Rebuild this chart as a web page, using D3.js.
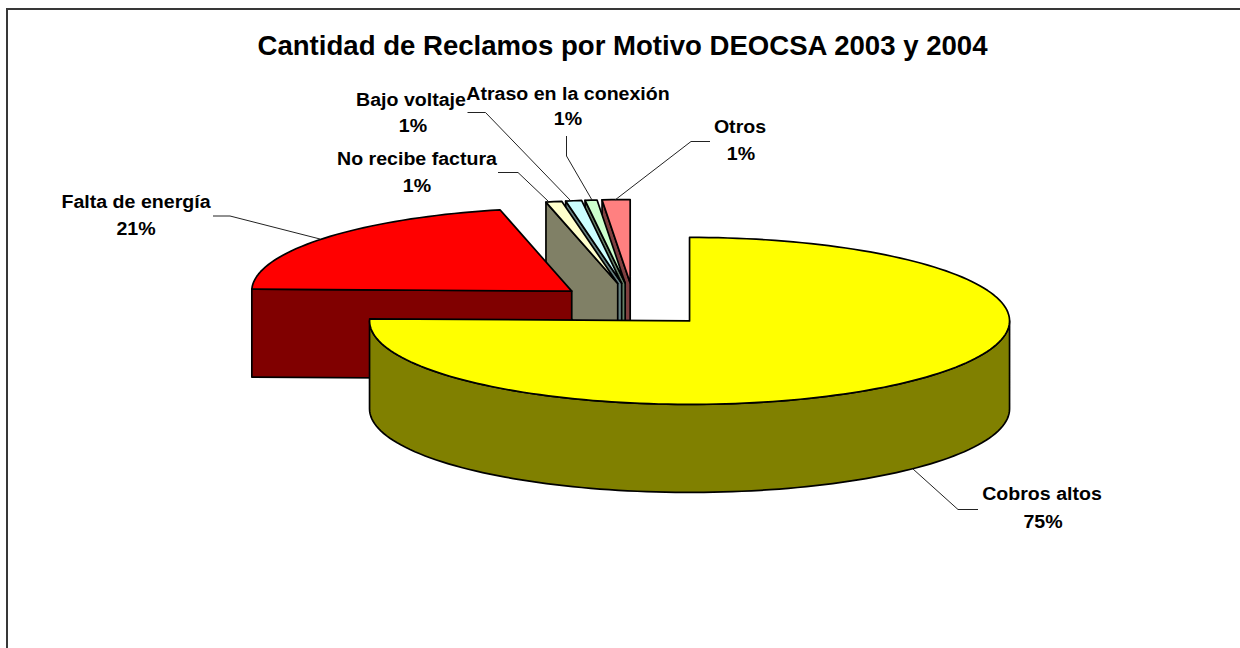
<!DOCTYPE html>
<html><head><meta charset="utf-8">
<script src="https://cdn.jsdelivr.net/npm/d3@7"></script>
<style>html,body{margin:0;padding:0;background:#fff}svg{display:block}text{font-family:"Liberation Sans",Arial,sans-serif;font-weight:bold;fill:#000}</style>
</head><body><svg id="c" width="1240" height="648"></svg>
<script>
const categories=["Cobros altos","Falta de energía","No recibe factura","Bajo voltaje","Atraso en la conexión","Otros"];
const values=[75.4,21.0,0.8,0.8,0.6,1.4];
const percentLabels=["75%","21%","1%","1%","1%","1%"];
const topColors=["#FFFF00","#FF0000","#FFFFCC","#CCFFFF","#CCFFCC","#FF8080"];
const sideColors=["#808000","#800000","#808066","#668080","#668066","#804040"];
const labelAnchors=[[1042,500,1043,528],[136,208,136,235],[417,165,417,192],[411,106,413,132],[568,100,568,125],[740,133,741,160]];
const leaderPaths=[[[978,509.5],[958,509.5],[913,469]],[[213,216],[230,216],[320,239]],[[498,172.5],[518,172.5],[548,201]],[[467.5,112.5],[485.5,112.5],[570,200]],[[566.5,136],[566.5,156],[592,200]],[[710,141.5],[691,141.5],[615,200]]];

const svg=d3.select("#c");
svg.append("path").attr("d","M7,648V9H1240").attr("fill","none").attr("stroke","#383838").attr("stroke-width",2);
function stretched(x,y,s,size,sx){
  return svg.append("text").attr("transform",`translate(${x},${y}) scale(${sx},1)`).attr("text-anchor","middle").style("font-size",size+"px").text(s);
}
stretched(622.5,54.5,"Cantidad de Reclamos por Motivo DEOCSA 2003 y 2004",27,1.022);

const cx=633.7,cy=305.1,rx=320,ry=83.5,depth=88,explodeX=0.25,explodeY=0.264;
const pie=d3.pie().sort(null).startAngle(0).endAngle(2*Math.PI)(values);
const X=d3.scaleLinear().domain([-1,1]).range([-rx,rx]);
const Y=d3.scaleLinear().domain([-1,1]).range([ry,-ry]);
const line=d3.line();
function arcPts(o,a0,a1,dy=0){
  const n=Math.max(1,Math.ceil(Math.abs(a1-a0)/0.03));
  return d3.range(n+1).map(i=>{const a=a0+(a1-a0)*i/n;return [o[0]+X(Math.sin(a)),o[1]+Y(Math.cos(a))+dy];});
}
const slices=pie.map((d,i)=>{
  const m=(d.startAngle+d.endAngle)/2;
  return {...d,i,o:[cx+X(Math.sin(m)*explodeX),cy+Y(Math.cos(m)*explodeY)]};
});
const g=svg.append("g").attr("stroke","#000").attr("stroke-width",1.7).attr("stroke-linejoin","round");
[5,4,3,2,1,0].forEach(k=>{
  const s=slices[k],a0=s.startAngle,a1=s.endAngle,o=s.o;
  if(k===0){
    const top=arcPts(o,Math.PI/2,3*Math.PI/2);
    const bot=arcPts(o,3*Math.PI/2,Math.PI/2,depth);
    g.append("path").attr("fill",sideColors[k]).attr("d",line(top.concat(bot))+"Z");
  }else{
    const r=arcPts(o,a0,a0)[0];
    g.append("path").attr("fill",sideColors[k]).attr("d",line([r,o,[o[0],o[1]+depth],[r[0],r[1]+depth]])+"Z");
  }
  g.append("path").attr("fill",topColors[k]).attr("d",line([o].concat(arcPts(o,a0,a1)))+"Z");
});
const lg=svg.append("g").attr("fill","none").attr("stroke","#222").attr("stroke-width",1);
leaderPaths.forEach(p=>lg.append("path").attr("d",line(p)));
categories.forEach((c,i)=>{
  const a=labelAnchors[i];
  stretched(a[0],a[1],c,17.5,1.12);
  stretched(a[2],a[3],percentLabels[i],17.5,1.12);
});
</script></body></html>
